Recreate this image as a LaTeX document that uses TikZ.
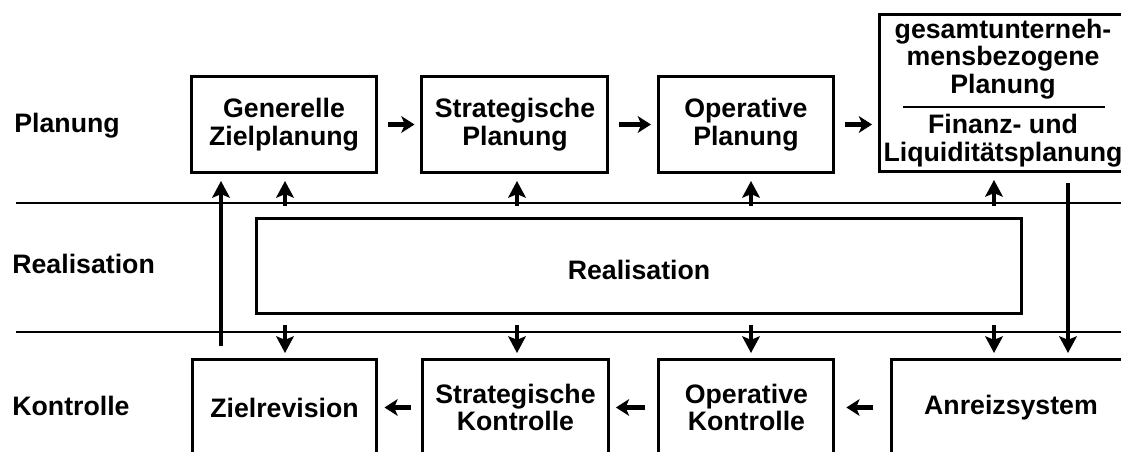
\documentclass[tikz,border=0pt]{standalone}
\usepackage{fontspec}
\setmainfont{Liberation Sans}
\usepackage{tikz}
\usetikzlibrary{positioning,arrows.meta}

\tikzset{
  box/.style={draw, line width=1.7pt, align=center, inner sep=2pt, minimum height=1.92cm},
  rowlabel/.style={anchor=west, inner sep=0pt},
  sep/.style={line width=0.75pt},
  upflow/.style={-{Stealth[length=9.5pt,width=10pt,inset=2pt]}, line width=2.4pt,
    shorten <=0.22cm, shorten >=0.14cm},
  downflow/.style={-{Stealth[length=9.5pt,width=10pt,inset=2pt]}, line width=2.4pt,
    shorten <=0.2cm, shorten >=0.1cm},
  sideflow/.style={-{Stealth[length=7.5pt,width=9.5pt,inset=2pt]}, line width=2.3pt,
    shorten <=0.2cm, shorten >=0.12cm}
}

\begin{document}
\begin{tikzpicture}[x=0.02cm, y=-0.02cm, node distance=4.62cm,
    every node/.style={font=\fontsize{15.2}{15.6}\selectfont\bfseries}]

    \useasboundingbox (0,0) rectangle (1121,452);
    \clip (0,0) rectangle (1121,452);

    % Trennlinien
    \draw[sep] (16,203) -- (1121,203);
    \draw[sep] (16,332) -- (1121,332);

    % Zeilen
    \node[rowlabel] (lplan) at (14,126) {Planung};
    \node[rowlabel] (lreal) at (12,263.5) {Realisation};
    \node[rowlabel] (lkontr) at (12,406) {Kontrolle};

    % Planung
    \node[box, minimum width=3.7cm] (ziel) at (284,124.5) {Generelle\\Zielplanung};
    \node[box, minimum width=3.72cm, right of=ziel] (strat) {Strategische\\Planung};
    \node[box, minimum width=3.5cm, right of=strat] (oper) {Operative\\Planung};
    \node[box, minimum width=4.94cm, minimum height=3.14cm] (gesamt) at (1003,93)
        {gesamtunterneh-\\mensbezogene\\Planung\\[7.4pt]Finanz- und\\Liquiditätsplanung};
    \draw[sep] (903,107) -- (1105,107);

    % Realisation
    \node[box, minimum width=15.3cm, minimum height=1.9cm, text height=0.56cm, text depth=0pt]
        (real) at (639,266) {Realisation};

    % Kontrolle
    \node[box, minimum width=3.7cm] (zielrev) at (284.5,407.5) {Zielrevision};
    \node[box, minimum width=3.72cm, right of=zielrev] (stratk) {Strategische\\Kontrolle};
    \node[box, minimum width=3.5cm, right of=stratk] (operk) {Operative\\Kontrolle};
    \node[box, minimum width=4.78cm] (anreiz) at (1011,407.5) {Anreizsystem};

    % Spalten der Pfeile
    \coordinate (k0) at (221,0);
    \coordinate (k1) at (285,0);
    \coordinate (k2) at (517,0);
    \coordinate (k3) at (751,0);
    \coordinate (k4) at (994,0);
    \coordinate (k5) at (1068,0);

    \draw[sideflow] (ziel) -- (strat);
    \draw[sideflow] (strat) -- (oper);
    \draw[sideflow] (oper.east) -- (oper.east -| gesamt.west);
    \draw[sideflow, shorten <=0.34cm, shorten >=0.22cm] (anreiz) -- (operk);
    \draw[sideflow, shorten <=0.24cm] (operk) -- (stratk);
    \draw[sideflow] (stratk) -- (zielrev);

    \draw[upflow] (real.north -| k1) -- (ziel.south -| k1);
    \draw[upflow] (real.north -| k2) -- (strat.south -| k2);
    \draw[upflow] (real.north -| k3) -- (oper.south -| k3);
    \draw[upflow] (real.north -| k4) -- (gesamt.south -| k4);
    \draw[upflow, shorten <=0.24cm] (zielrev.north -| k0) -- (ziel.south -| k0);

    \draw[downflow] (real.south -| k1) -- (zielrev.north -| k1);
    \draw[downflow] (real.south -| k2) -- (stratk.north -| k2);
    \draw[downflow] (real.south -| k3) -- (operk.north -| k3);
    \draw[downflow] (real.south -| k4) -- (anreiz.north -| k4);
    \draw[downflow] (gesamt.south -| k5) -- (anreiz.north -| k5);

\end{tikzpicture}
\end{document}
